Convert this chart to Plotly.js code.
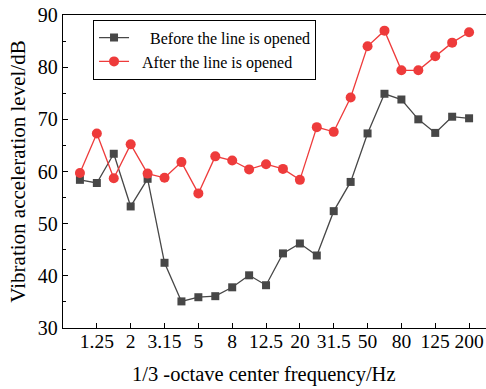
<!DOCTYPE html>
<html><head><meta charset="utf-8">
<script src="https://cdn.plot.ly/plotly-3.0.1.min.js"></script>
<style>html,body{margin:0;padding:0;background:#fff}</style>
</head><body><div id="chart" style="width:486px;height:389px"></div>
<script>
var frequencies = ['1','1.25','1.6','2','2.5','3.15','4','5','6.3','8','10','12.5','16','20','25','31.5','40','50','63','80','100','125','160','200'];
var beforeOpened = [58.4,57.8,63.4,53.3,58.6,42.5,35.1,35.9,36.1,37.8,40.1,38.2,44.3,46.2,43.9,52.4,58.0,67.3,74.9,73.8,70.0,67.4,70.5,70.2];
var afterOpened = [59.7,67.3,58.7,65.2,59.6,58.8,61.8,55.8,62.9,62.1,60.4,61.4,60.5,58.4,68.5,67.6,74.2,84.0,87.0,79.4,79.4,82.1,84.7,86.7];
var tickLabels = ['1.25','2','3.15','5','8','12.5','20','31.5','50','80','125','200'];
var seriesNames = ['\u00a0\u00a0\u00a0\u00a0Before the line is opened', '\u00a0\u00a0After the line is opened'];

var font = 'Times New Roman';
var traces = [
  {x: frequencies, y: beforeOpened, name: seriesNames[0], mode: 'lines+markers',
   line: {color: '#474747', width: 1.3}, marker: {symbol: 'square', size: 8, color: '#474747'}},
  {x: frequencies, y: afterOpened, name: seriesNames[1], mode: 'lines+markers',
   line: {color: '#ee3b3b', width: 1.3}, marker: {symbol: 'circle', size: 10, color: '#ee3b3b'}}
];
var layout = {
  width: 486, height: 389,
  margin: {l: 63, r: 0, t: 15, b: 61},
  paper_bgcolor: '#fff', plot_bgcolor: '#fff',
  font: {family: font, color: '#000', size: 17},
  showlegend: true,
  legend: {x: 0.071, y: 0.985, xanchor: 'left', yanchor: 'top', bordercolor: '#000', borderwidth: 1,
           bgcolor: '#fff', font: {family: font, size: 16, color: '#000'}, tracegroupgap: 0},
  xaxis: {type: 'category', categoryorder: 'array', categoryarray: frequencies,
          range: [-1, 24], tickmode: 'array', tickvals: tickLabels, ticktext: tickLabels,
          ticks: 'inside', ticklen: 5, tickwidth: 1, tickcolor: '#000', ticklabelstandoff: -5,
          showline: true, linecolor: '#000', linewidth: 1.3, mirror: true, showgrid: false, zeroline: false,
          tickfont: {family: font, size: 19.5, color: '#000'}},
  yaxis: {range: [30, 90], dtick: 10, ticks: 'inside', ticklen: 5, tickwidth: 1, tickcolor: '#000',
          minor: {dtick: 5, ticks: 'inside', ticklen: 3, tickcolor: '#000'},
          showline: true, linecolor: '#000', linewidth: 1.3, showgrid: false, zeroline: false,
          tickfont: {family: font, size: 20, color: '#000'},
          title: {text: 'Vibration acceleration level/dB', font: {family: font, size: 21}, standoff: 6}},
  annotations: [{text: '1/3 -octave center frequency/Hz', xref: 'paper', yref: 'paper', x: 0.474, y: -0.15,
                 xanchor: 'center', yanchor: 'middle', showarrow: false, font: {family: font, size: 20.5, color: '#000'}}]
};
Plotly.newPlot('chart', traces, layout, {displayModeBar: false, staticPlot: true});
</script></body></html>
